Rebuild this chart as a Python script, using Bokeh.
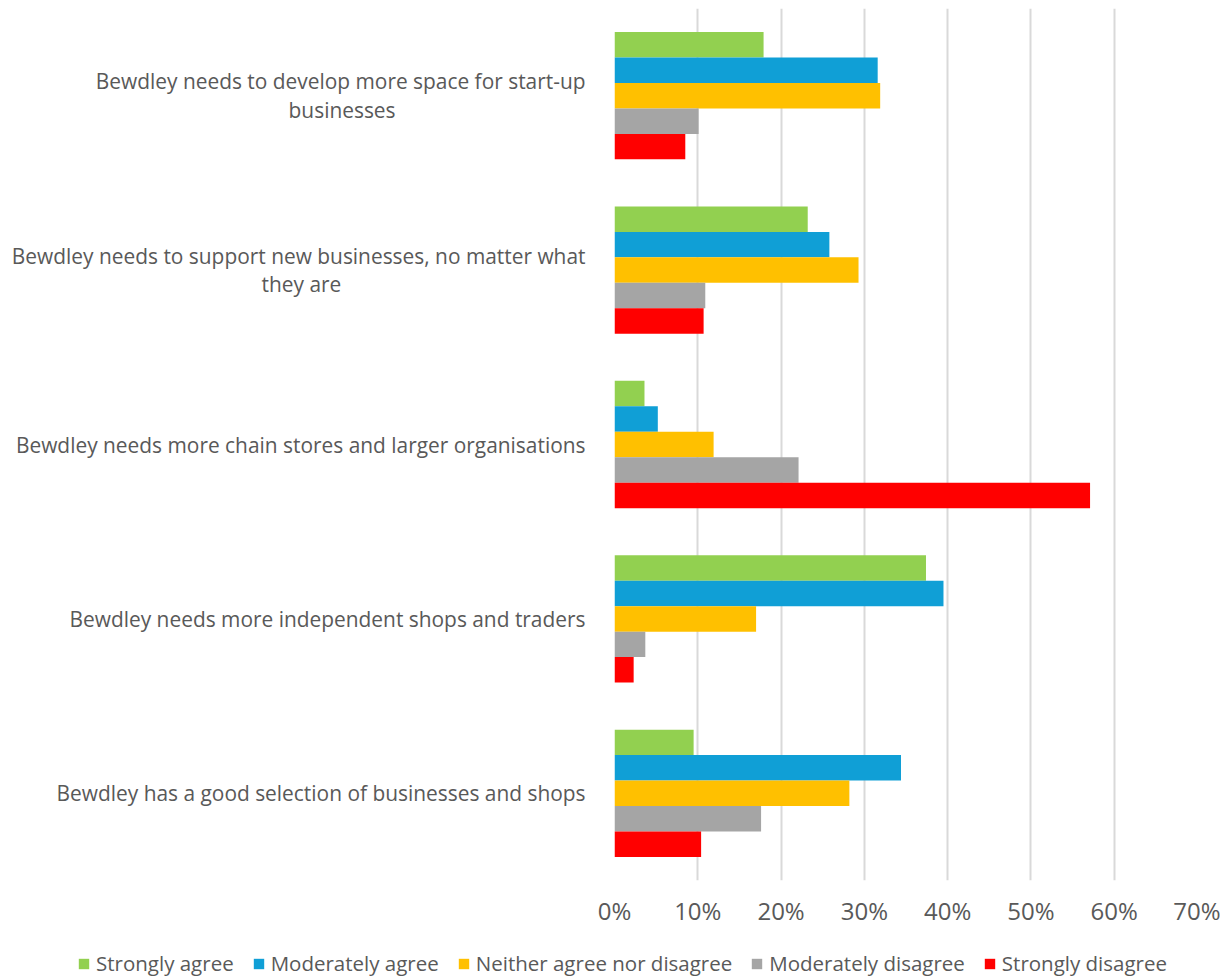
from bokeh.plotting import figure
from bokeh.models import FactorRange, Legend, LegendItem, FixedTicker, NumeralTickFormatter, ColumnDataSource
from bokeh.layouts import column
from bokeh.transform import dodge
from bokeh.embed import file_html
from bokeh.resources import INLINE

# Categories, top to bottom as in the reference (wrapped as in the reference)
categories = [
    "Bewdley needs to develop more space for start-up\nbusinesses",
    "Bewdley needs to support new businesses, no matter what\nthey are",
    "Bewdley needs more chain stores and larger organisations",
    "Bewdley needs more independent shops and traders",
    "Bewdley has a good selection of businesses and shops",
]
series_names = ["Strongly agree", "Moderately agree", "Neither agree nor disagree",
                "Moderately disagree", "Strongly disagree"]
strongly_agree = [0.179, 0.232, 0.036, 0.374, 0.095]
moderately_agree = [0.316, 0.258, 0.052, 0.395, 0.344]
neither = [0.319, 0.293, 0.119, 0.170, 0.282]
moderately_disagree = [0.101, 0.109, 0.221, 0.037, 0.176]
strongly_disagree = [0.085, 0.107, 0.571, 0.023, 0.104]
x_ticks = [0, 0.1, 0.2, 0.3, 0.4, 0.5, 0.6, 0.7]

colors = ["#92d050", "#109fd6", "#ffc000", "#a5a5a5", "#ff0000"]

FONT = "Open Sans"
GREY = "#595959"
NB = "\u00a0"
# no-break-space padding so a wrapped second line sits centred under the first
pads = [35, 45, 0, 0, 0]
factors = [c + NB * n for c, n in zip(categories, pads)]

src = ColumnDataSource(dict(cat=factors, sa=strongly_agree, ma=moderately_agree,
                            ne=neither, md=moderately_disagree, sd=strongly_disagree))
keys = ["sa", "ma", "ne", "md", "sd"]

p = figure(y_range=FactorRange(factors=list(reversed(factors))),
           x_range=(0, 0.7),
           width=1220, height=950,
           min_border_left=614, min_border_right=23, min_border_top=8, min_border_bottom=70,
           output_backend="svg", toolbar_location=None)

bar_h = 0.146
offsets = [2 * bar_h, bar_h, 0, -bar_h, -2 * bar_h]
for k, off, c in zip(keys, offsets, colors):
    p.hbar(y=dodge("cat", off, range=p.y_range), left=0, right=k, height=bar_h,
           source=src, fill_color=c, line_color=None)

p.xaxis.ticker = FixedTicker(ticks=x_ticks)
p.xaxis.formatter = NumeralTickFormatter(format="0%")
p.xaxis.axis_line_color = None
p.xaxis.major_tick_line_color = None
p.xaxis.minor_tick_line_color = None
p.xaxis.major_label_text_font = FONT
p.xaxis.major_label_text_font_size = "24px"
p.xaxis.major_label_text_color = GREY
p.xaxis.major_label_standoff = 7

p.yaxis.axis_line_color = None
p.yaxis.major_tick_line_color = None
p.yaxis.minor_tick_line_color = None
p.yaxis.major_label_text_font = FONT
p.yaxis.major_label_text_font_size = "20.9px"
p.yaxis.major_label_text_color = GREY
p.yaxis.major_label_text_line_height = 1.02
p.yaxis.major_label_standoff = 23

p.xgrid.grid_line_color = "#d9d9d9"
p.xgrid.grid_line_width = 2
p.ygrid.grid_line_color = None
p.outline_line_color = None

# legend strip below the chart (swatch renderers sit outside the strip's ranges)
lg = figure(width=1220, height=26, x_range=(0, 1), y_range=(0, 1),
            min_border_left=24, min_border_right=0, min_border_top=0, min_border_bottom=0,
            output_backend="svg", toolbar_location=None)
lg.frame_align = False
lg.axis.visible = False
lg.grid.visible = False
lg.outline_line_color = None
swatches = [lg.hbar(y=[5], left=[5], right=[6], height=0.5, fill_color=c, line_color=None)
            for c in colors]
legend = Legend(items=[LegendItem(label=n, renderers=[r]) for n, r in zip(series_names, swatches)],
                orientation="horizontal", location="center",
                label_text_font=FONT, label_text_font_size="20.5px", label_text_color=GREY,
                glyph_width=13, glyph_height=13, spacing=18, label_standoff=6,
                border_line_color=None, background_fill_alpha=0, padding=0, margin=0)
lg.add_layout(legend, "center")

layout = column(p, lg, spacing=0)
open("out.html", "w").write(file_html(layout, INLINE))
